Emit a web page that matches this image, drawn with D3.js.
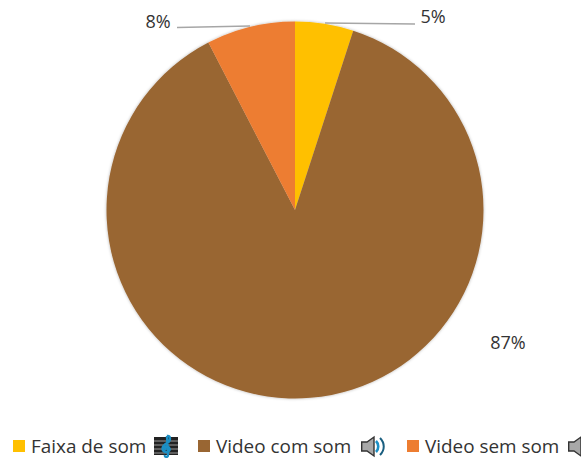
<!DOCTYPE html>
<html><head><meta charset="utf-8">
<script src="https://cdn.jsdelivr.net/npm/d3@7"></script>
<style>html,body{margin:0;padding:0;background:#fff;overflow:hidden}svg{display:block}text{font-family:"Open Sans","Noto Sans",sans-serif;fill:#333}</style>
</head><body><svg id="c" width="581" height="459"></svg>
<script>
const categories = ["Faixa de som","Video com som","Video sem som"];
const values = [5,87.4,7.6];
const colors = ["#ffc000","#996633","#ed7d31"];
const labels = ["5%","87%","8%"];

const W=581,H=459,cx=295,cy=210,R=188.5;
const svg=d3.select("#c").attr("viewBox",[0,0,W,H]);
const defs=svg.append("defs");
const f=defs.append("filter").attr("id","sh").attr("x","-10%").attr("y","-10%").attr("width","120%").attr("height","120%");
f.append("feDropShadow").attr("dx",0).attr("dy",0).attr("stdDeviation",1.5).attr("flood-color","#000").attr("flood-opacity",0.3);

const pie=d3.pie().sort(null).value(d=>d)(values);
const arc=d3.arc().innerRadius(0).outerRadius(R);
const g=svg.append("g").attr("transform",`translate(${cx},${cy})`).attr("filter","url(#sh)");
g.selectAll("path").data(pie).join("path").attr("d",arc).attr("fill",(d,i)=>colors[i]);

// leader lines
const leaders=[[[325,23],[415,24]],[[177,27.5],[250,26]]];
svg.selectAll("line.l").data(leaders).join("line").attr("class","l")
 .attr("x1",d=>d[0][0]).attr("y1",d=>d[0][1]).attr("x2",d=>d[1][0]).attr("y2",d=>d[1][1])
 .attr("stroke","#a6a6a6").attr("stroke-width",1.4);

const lp=[[433,23],[508,349],[158,28]];
svg.selectAll("text.p").data(labels).join("text").attr("class","p")
 .attr("x",(d,i)=>lp[i][0]).attr("y",(d,i)=>lp[i][1]).attr("text-anchor","middle")
 .attr("font-size",18).text(d=>d);

// legend
const lx=[13,198,407], tx=[31,216,425], sw=12;
const lg=svg.append("g");
lg.selectAll("rect").data(categories).join("rect").attr("x",(d,i)=>lx[i]).attr("y",440).attr("width",sw).attr("height",sw).attr("fill",(d,i)=>colors[i]);
lg.selectAll("text").data(categories).join("text").attr("x",(d,i)=>tx[i]).attr("y",453).attr("font-size",18.9).text(d=>d);

// clef icon
const ic=svg.append("g").attr("transform","translate(154,435)");
ic.append("rect").attr("x",0).attr("y",2).attr("width",24).attr("height",18).attr("fill","#222");
[6,10,14,18].forEach(y=>ic.append("line").attr("x1",0).attr("x2",24).attr("y1",y).attr("y2",y).attr("stroke","#999").attr("stroke-width",1));
ic.append("path").attr("d","M13 1 C17 0 17 6 13 8 C8 11 7 15 11 17 C16 18 17 13 14 12 C11 11 10 14 12 15 M13 1 L14 20 C14 23 10 22 11 20")
 .attr("fill","none").attr("stroke","#1b8fc4").attr("stroke-width",2.4);

// speaker icons
function speaker(x,waves){
 const s=svg.append("g").attr("transform",`translate(${x},436)`);
 s.append("path").attr("d","M0.7 6 H6 L13 1 V20 L6 15 H0.7 Z").attr("fill","#a8a8a8").attr("stroke","#333").attr("stroke-width",1.4);
 if(waves){
  s.append("path").attr("d","M15 5 C18 8 18 13 15 16").attr("fill","none").attr("stroke","#1b8fc4").attr("stroke-width",2.6);
  s.append("path").attr("d","M19 2 C24 7 24 14 19 19").attr("fill","none").attr("stroke","#1a5f80").attr("stroke-width",2);
 }
}
speaker(361,true);
speaker(568,false);
</script></body></html>
